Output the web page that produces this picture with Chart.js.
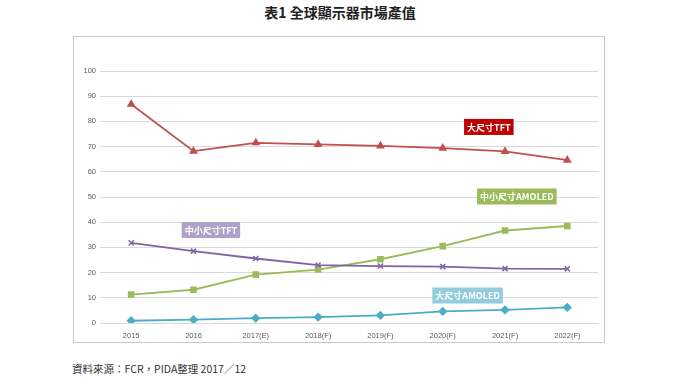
<!DOCTYPE html>
<html>
<head>
<meta charset="utf-8">
<script src="https://cdn.jsdelivr.net/npm/chart.js@4"></script>
<style>
  body { margin: 0; background: #fff; width: 680px; height: 383px; position: relative; overflow: hidden; }
  #title { position: absolute; left: 0; width: 680px; top: 2px; text-align: center;
    font: bold 14px "Noto Sans CJK TC", sans-serif; color: #222; }
  #frame { position: absolute; left: 73px; top: 36px; width: 530px; height: 305px; border: 1px solid #c8c8c8; }
  #note { position: absolute; left: 72px; top: 361px; font: 10.5px "Noto Sans CJK TC", sans-serif; color: #333; }
</style>
</head>
<body>
<div id="title">表1 全球顯示器市場產值</div>
<div id="frame"><canvas id="c" width="530" height="305"></canvas></div>
<div id="note">資料來源：FCR，PIDA整理 2017／12</div>
<script>
// years on the x axis
const years = ["2015", "2016", "2017(E)", "2018(F)", "2019(F)", "2020(F)", "2021(F)", "2022(F)"];

// series values
const bigTFT = [86.8, 68.2, 71.5, 70.9, 70.3, 69.4, 68.1, 64.6];
const smallTFT = [31.8, 28.5, 25.6, 23.0, 22.6, 22.4, 21.6, 21.5];
const smallAMOLED = [11.3, 13.2, 19.2, 21.2, 25.3, 30.5, 36.7, 38.5];
const bigAMOLED = [0.9, 1.3, 1.9, 2.3, 3.0, 4.6, 5.2, 6.2];

// series name tags: text, category position, value position, fill
const tags = [
  ["大尺寸TFT", 5.74, 77.8, "#C00000"],
  ["中小尺寸AMOLED", 6.19, 50.2, "#9BBB59"],
  ["中小尺寸TFT", 1.28, 36.9, "#B1A0C7"],
  ["大尺寸AMOLED", 5.40, 10.9, "#93CDDD"]
];

const tagPlugin = {
  id: "tags",
  afterDatasetsDraw(chart) {
    const ctx = chart.ctx, xs = chart.scales.x, ys = chart.scales.y;
    ctx.save();
    ctx.font = "bold 9px 'Noto Sans CJK TC', sans-serif";
    ctx.textAlign = "center";
    ctx.textBaseline = "middle";
    tags.forEach(t => {
      const x0 = xs.getPixelForValue(0), x1 = xs.getPixelForValue(1);
      const x = x0 + (x1 - x0) * t[1];
      const y = ys.getPixelForValue(t[2]);
      const w = ctx.measureText(t[0]).width + 6;
      ctx.fillStyle = t[3];
      ctx.fillRect(x - w / 2, y - 8, w, 16);
      ctx.fillStyle = "#fff";
      ctx.fillText(t[0], x, y + 0.5);
    });
    ctx.restore();
  }
};

function line(data, color, style) {
  return {
    data: data,
    borderColor: color,
    backgroundColor: color,
    borderWidth: 1.8,
    pointStyle: style,
    pointRadius: 3.6,
    pointBorderWidth: 1.5,
    tension: 0
  };
}

new Chart(document.getElementById("c"), {
  type: "line",
  data: {
    labels: years,
    datasets: [
      line(bigTFT, "#C0504D", "triangle"),
      line(smallTFT, "#8064A2", "crossRot"),
      line(smallAMOLED, "#9BBB59", "rect"),
      line(bigAMOLED, "#4BACC6", "rectRot")
    ]
  },
  options: {
    responsive: false,
    animation: false,
    layout: { padding: { top: 34, right: 3, bottom: 2, left: 0 } },
    plugins: { legend: { display: false }, tooltip: { enabled: false } },
    scales: {
      x: {
        offset: true,
        afterFit(s) { s.height = 17; },
        grid: { display: false, drawTicks: false },
        border: { display: false },
        ticks: { color: "#595959", font: { size: 7.5, family: "Liberation Sans" }, padding: 8, maxRotation: 0 }
      },
      y: {
        min: 0,
        max: 100,
        afterFit(s) { s.width = 26; },
        grid: { color: "#d9d9d9", drawTicks: false },
        border: { display: false },
        ticks: { stepSize: 10, color: "#595959", font: { size: 7.5, family: "Liberation Sans" }, padding: 4 }
      }
    }
  },
  plugins: [tagPlugin]
});
</script>
</body>
</html>
